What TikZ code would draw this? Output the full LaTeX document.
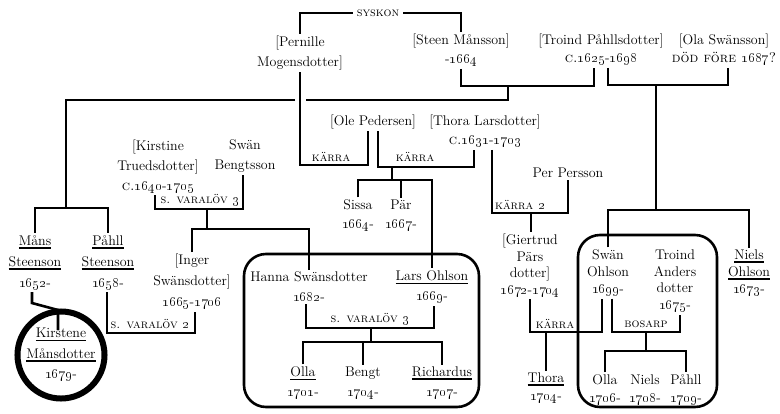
\documentclass[tikz,border=0pt]{standalone}
\usetikzlibrary{calc}
\newcommand\lsp[1]{\fontsize{14}{#1}\selectfont}
\newcommand\yr[1]{{\fontsize{15.5}{15}\selectfont\oldstylenums{#1}}}
\newcommand\yrs[2]{\yr{#1}-\yr{#2}}
\newsavebox\namebox
\newcommand\uname[1]{\sbox\namebox{#1}\rlap{\rule[-3.6pt]{\wd\namebox}{1.6pt}}\usebox\namebox}
\tikzset{
  person/.style={align=center, inner sep=2pt, font=\lsp{20}},
  place/.style={inner sep=1pt, font=\fontsize{12.5}{12}\selectfont\scshape},
  link/.style={line width=2.6pt},
  famframe/.style={line width=2.6pt, rounded corners=22pt},
}

\begin{document}
\begin{tikzpicture}[x=1pt, y=-1pt]
\useasboundingbox (0,0) rectangle (780,413);

\draw[famframe] (244,254) rectangle (479,407);
\draw[famframe] (578,235) rectangle (717,407);

\node[person] (pern) at (300,53) {[Pernille\\Mogensdotter]};
\node[person, font=\lsp{19}] (steen) at (461,50.5) {[Steen Månsson]\\-\yr{1664}};
\node[person, font=\lsp{18}] (troind) at (601,50) {[Troind Påhllsdotter]\\{\scshape c.}\yrs{1625}{1698}};
\node[person, font=\lsp{18}] (ola) at (724,50) {[Ola Swänsson]\\{\scshape död före \yr{1687}?}};
\node[place, inner xsep=4pt] (syskon) at (378,13) {syskon};

\node[person] (kirstine) at (158,166.5) {[Kirstine\\Truedsdotter]\\{\scshape c.}\yrs{1640}{1705}};
\node[person] (swanb) at (245,156) {Swän\\Bengtsson};
\node[person] (olep) at (373,122) {[Ole Pedersen]};
\node[person, font=\lsp{19}] (thoral) at (485,131.5) {[Thora Larsdotter]\\{\scshape c.}\yrs{1631}{1703}};

\node[person, font=\lsp{21}] (mans) at (35,262.5) {\uname{Måns}\\\uname{Steenson}\\\yr{1652}-};
\node[person, font=\lsp{21}] (pahll) at (108,262.5) {\uname{Påhll}\\\uname{Steenson}\\\yr{1658}-};
\node[person, font=\lsp{21}] (inger) at (192,282) {[Inger\\Swänsdotter]\\\yrs{1665}{1706}};
\node[person, font=\lsp{19}] (sissa) at (358,215.5) {Sissa\\\yr{1664}-};
\node[person, font=\lsp{19}] (par) at (401,215.5) {Pär\\\yr{1667}-};
\node[person] (perp) at (568,173) {Per Persson};
\node[person, font=\lsp{16.5}] (giert) at (530,265.5) {[Giertrud\\Pärs\\dotter]\\\yrs{1672}{1704}};

\node[person, font=\lsp{17}] (swano) at (608,273) {Swän\\Ohlson\\\yr{1699}-};
\node[person, font=\lsp{16.7}] (troinda) at (675,281) {Troind\\Anders\\dotter\\\yr{1675}-};
\node[person, font=\lsp{17}] (nielso) at (749,273) {\uname{Niels}\\\uname{Ohlson}\\\yr{1673}-};

\node[person] (hanna) at (309,287) {Hanna Swänsdotter\\\yr{1682}-};
\node[person] (lars) at (432,287) {\uname{Lars Ohlson}\\\yr{1669}-};
\node[person] (olla1) at (303,383) {\uname{Olla}\\\yr{1701}-};
\node[person] (bengt) at (363,383) {Bengt\\\yr{1704}-};
\node[person] (richard) at (442,383) {\uname{Richardus}\\\yr{1707}-};

\node[person, circle, draw, line width=6pt, minimum size=86pt, inner sep=0pt, font=\lsp{20.5}] (kirstene) at (61,355) {\uname{Kirstene}\\\uname{Månsdotter}\\\yr{1679}-};

\node[person, font=\lsp{18}] (thora) at (546,388) {\uname{Thora}\\\yr{1704}-};
\node[person, font=\lsp{18}] (olla2) at (605,390) {Olla\\\yr{1706}-};
\node[person, font=\lsp{18}] (niels2) at (645,390) {Niels\\\yr{1708}-};
\node[person, font=\lsp{18}] (pahll2) at (686,390) {Påhll\\\yr{1709}-};

% marriage places
\node[place] at (331,157) {kärra};
\node[place] at (415,157) {kärra};
\node[place] at (520,205) {kärra \yr{2}};
\node[place] at (200,200) {s. varalöv \yr{3}};
\node[place] at (150,324) {s. varalöv \yr{2}};
\node[place] at (370,319) {s. varalöv \yr{3}};
\node[place] at (555,324) {kärra};
\node[place] at (646,324) {bosarp};

% junctions
\coordinate (st) at (508,86);
\coordinate (gapR) at (306,100);
\coordinate (gapL) at (295,100);
\coordinate (mp) at (66,208);
\coordinate (pk) at (330,165);
\coordinate (ot) at (392,167);
\coordinate (otk) at (392,180);
\coordinate (tp) at (531,213);
\coordinate (to) at (656,85);
\coordinate (tok) at (656,210);
\coordinate (ks) at (207,209);
\coordinate (ksk) at (207,229);
\coordinate (pi) at (150,333);
\coordinate (hl) at (371,328);
\coordinate (hlk) at (371,342);
\coordinate (gs) at (546,332);
\coordinate (sa) at (646,332);
\coordinate (sak) at (646,351);

\draw[link] (pern.north) |- (syskon.west);
\draw[link] (syskon.east) -| (steen.north);

\draw[link] (steen.south) |- (st) -| ([xshift=-7pt]troind.south);
\draw[link] (st) |- (gapR);
\draw[link] (gapL) -| (mp);
\draw[link] (mans.north) |- (mp) -| (pahll.north);

\draw[link] (pern.south) |- (pk) -| ([xshift=-5pt]olep.south);

\draw[link] ([xshift=5pt]olep.south) |- (ot) -| ([xshift=-11pt]thoral.south);
\draw[link] (ot) -- (otk);
\draw[link] (sissa.north) |- (otk) -| (lars.north);
\draw[link] (par.north) -- (par.north |- otk);

\draw[link] ([xshift=7pt]thoral.south) |- (tp) -| (perp.south);
\draw[link] (tp) -- (tp |- giert.north);

\draw[link] ([xshift=7pt]troind.south) |- (to) -| ([xshift=4pt]ola.south);
\draw[link] (to) -- (tok);
\draw[link] (swano.north) |- (tok) -| (nielso.north);

\draw[link] ([xshift=-3pt]kirstine.south) |- (ks) -| ([xshift=-2pt]swanb.south);
\draw[link] (ks) -- (ksk);
\draw[link] (inger.north) |- (ksk) -| (hanna.north);

\draw[link] ([xshift=-1pt]pahll.south) |- (pi) -| ([xshift=3pt]inger.south);
\draw[link] ([xshift=-3pt]mans.south) -- ++(0,11) -- ++(26,7) -- ++(0,20);

\draw[link] ([xshift=-3pt]hanna.south) |- (hl) -| ([xshift=2pt]lars.south);
\draw[link] (hl) -- (hlk);
\draw[link] (olla1.north) |- (hlk) -| (richard.north);
\draw[link] (bengt.north) -- (bengt.north |- hlk);

\draw[link] (giert.south) |- (gs) -| ([xshift=-6pt]swano.south);
\draw[link] (gs) -- (thora.north);

\draw[link] ([xshift=4pt]swano.south) |- (sa) -| ([xshift=5pt]troinda.south);
\draw[link] (sa) -- (sak);
\draw[link] (olla2.north) |- (sak) -| (pahll2.north);
\end{tikzpicture}
\end{document}
